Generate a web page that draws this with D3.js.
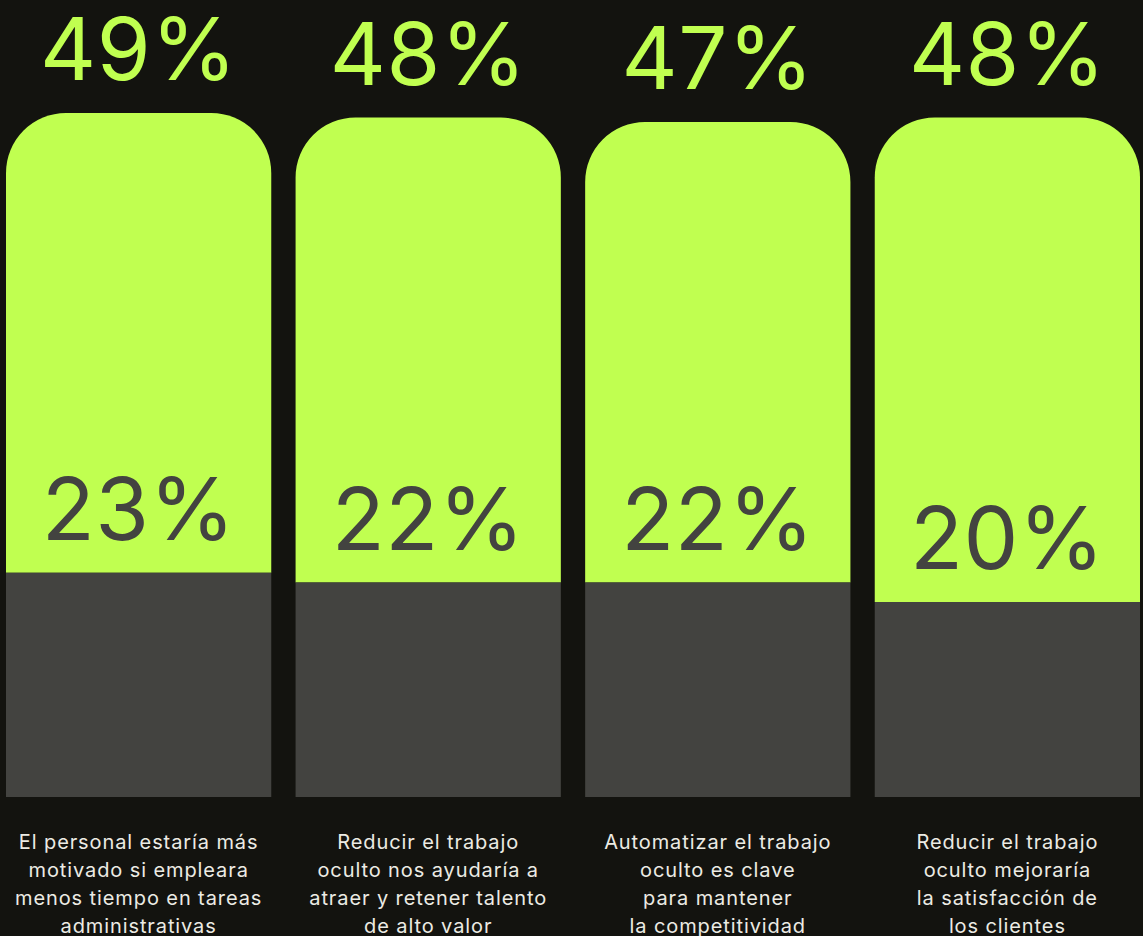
<!DOCTYPE html>
<html>
<head>
<meta charset="utf-8">
<script src="https://cdn.jsdelivr.net/npm/d3@7"></script>
<style>
  html, body { margin: 0; padding: 0; background: #13130f; }
  svg { display: block; }
</style>
</head>
<body>
<svg id="chart"></svg>
<script>
let width = 1143;
let height = 936;

// data
let categories = ['c1', 'c2', 'c3', 'c4'];
let outerValues = [49, 48, 47, 48];
let innerValues = [23, 22, 22, 20];
let labelLines = [
  ['El personal estaría más', 'motivado si empleara', 'menos tiempo en tareas', 'administrativas'],
  ['Reducir el trabajo', 'oculto nos ayudaría a', 'atraer y retener talento', 'de alto valor'],
  ['Automatizar el trabajo', 'oculto es clave', 'para mantener', 'la competitividad'],
  ['Reducir el trabajo', 'oculto mejoraría', 'la satisfacción de', 'los clientes']
];

let green = '#c0ff50';
let grey = '#434340';
let baseline = 797;
let radius = 60;

let rows = categories.map((c, i) => ({
  key: c, outer: outerValues[i], inner: innerValues[i], lines: labelLines[i]
}));

let xScale = d3.scaleBand()
  .domain(categories)
  .range([6, 1140])
  .paddingInner(0.084)
  .paddingOuter(0);

// inner (grey) part grows from the baseline
let yInner = d3.scaleLinear()
  .domain([0, 100])
  .range([baseline, baseline - 975]);

// the outer value sets where the rounded green top sits
let yOuter = d3.scaleLinear()
  .domain([40, 50])
  .range([153.5, 108.5]);

let svg = d3.select('#chart')
  .attr('width', width)
  .attr('height', height);

function roundTop(x, y, w, h, r) {
  return `M${x},${y + h} V${y + r} A${r},${r} 0 0 1 ${x + r},${y} H${x + w - r}`
    + ` A${r},${r} 0 0 1 ${x + w},${y + r} V${y + h} Z`;
}

let bars = svg.selectAll('.bar')
  .data(rows)
  .enter()
  .append('g')
    .classed('bar', true);

// green part: from the grey top up to the rounded top
bars.append('path')
  .attr('d', d => roundTop(xScale(d.key), yOuter(d.outer), xScale.bandwidth(),
                           yInner(d.inner) - yOuter(d.outer), radius))
  .attr('fill', green);

bars.append('rect')
  .attr('x', d => xScale(d.key))
  .attr('y', d => yInner(d.inner))
  .attr('width', xScale.bandwidth())
  .attr('height', d => baseline - yInner(d.inner))
  .attr('fill', grey);

let bigFont = 'Inter, "Noto Sans", sans-serif';

bars.append('text')
  .text(d => d.outer + '%')
  .attr('x', d => xScale(d.key) + xScale.bandwidth() / 2)
  .attr('y', d => yOuter(d.outer) - 33)
  .attr('text-anchor', 'middle')
  .attr('fill', green)
  .style('font-family', bigFont)
  .style('font-size', '87px')
  .style('font-weight', 400)
  .style('letter-spacing', '0.5px');

bars.append('text')
  .text(d => d.inner + '%')
  .attr('x', d => xScale(d.key) + xScale.bandwidth() / 2)
  .attr('y', d => yInner(d.inner) - 33)
  .attr('text-anchor', 'middle')
  .attr('fill', grey)
  .style('font-family', bigFont)
  .style('font-size', '87px')
  .style('font-weight', 400)
  .style('letter-spacing', '0.5px');

bars.append('text')
  .attr('x', d => xScale(d.key) + xScale.bandwidth() / 2)
  .attr('y', 849)
  .attr('text-anchor', 'middle')
  .attr('fill', '#ecebe4')
  .style('font-family', bigFont)
  .style('font-size', '20px')
  .style('letter-spacing', '0.9px')
  .selectAll('tspan')
  .data(d => d.lines)
  .enter()
  .append('tspan')
    .attr('x', function() { return d3.select(this.parentNode).attr('x'); })
    .attr('dy', (d, i) => i === 0 ? 0 : 28)
    .text(d => d);
</script>
</body>
</html>
